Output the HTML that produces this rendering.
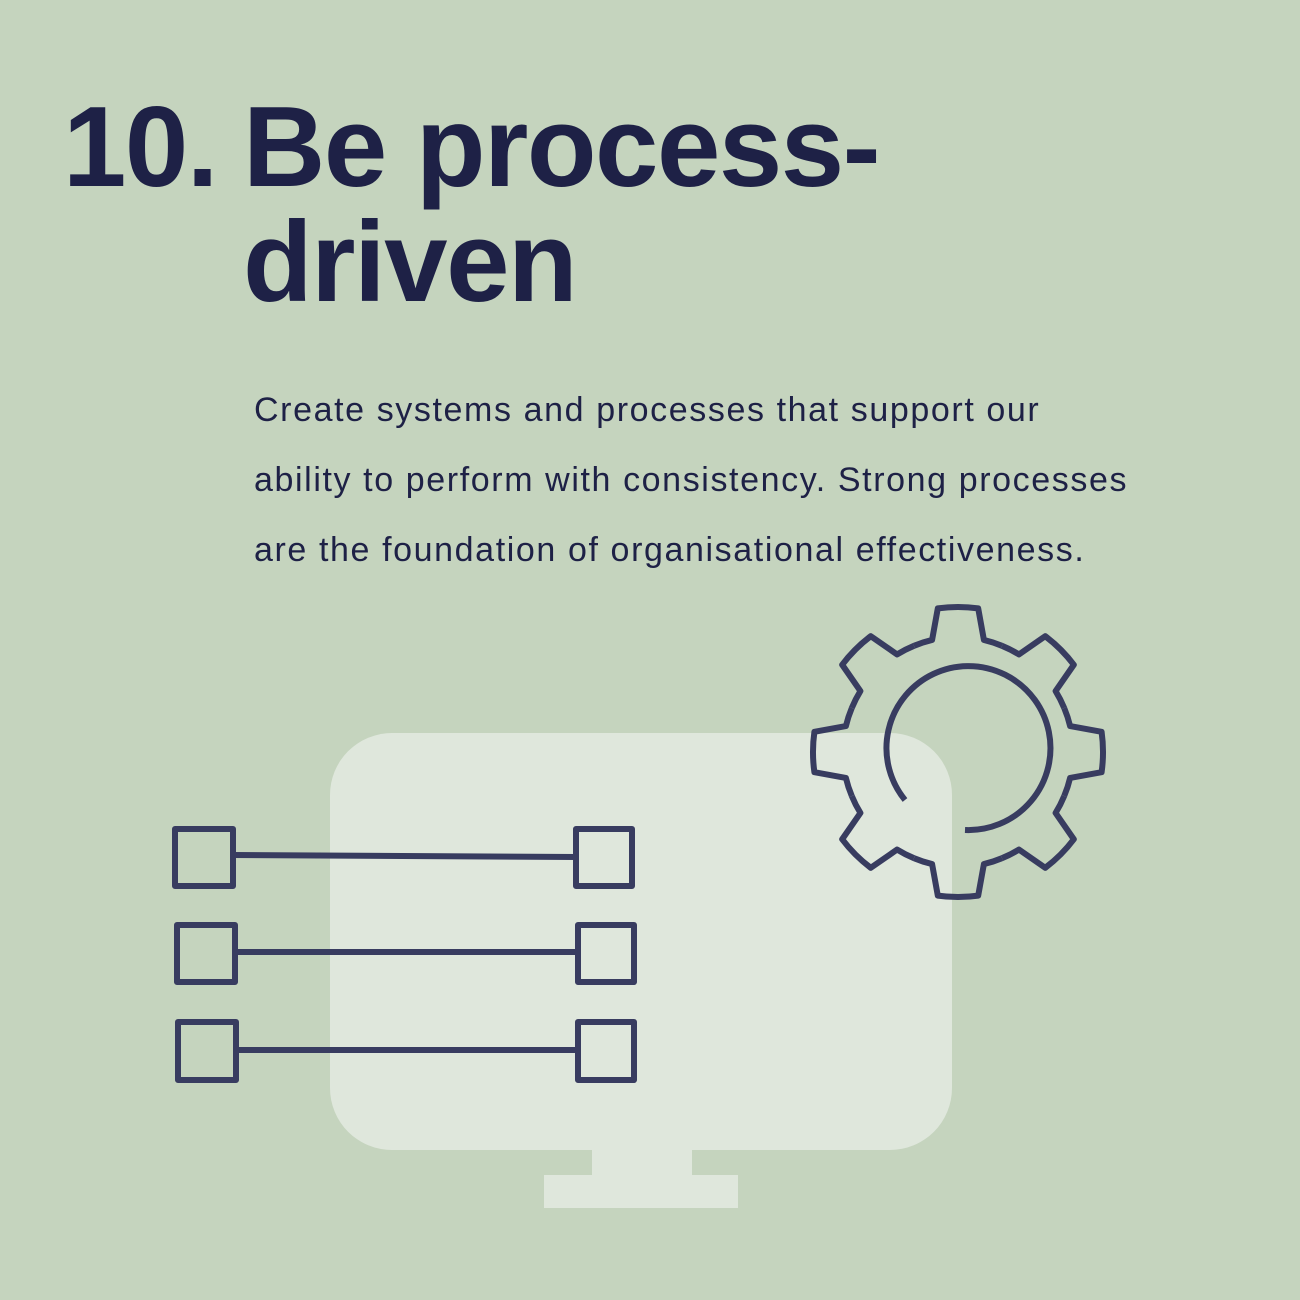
<!DOCTYPE html>
<html><head><meta charset="utf-8"><style>
body{margin:0;width:1300px;height:1300px;background:#c5d4be;position:relative;overflow:hidden;font-family:"Liberation Sans",sans-serif;color:#1e2146}
.t{position:absolute;font-weight:bold;font-size:114px;letter-spacing:-1.5px;line-height:115px}
.p{position:absolute;left:254px;top:375px;font-size:34px;letter-spacing:1.6px;line-height:70px;font-weight:300;width:1000px}
svg{position:absolute;left:0;top:0}
</style></head><body>
<svg width="1300" height="1300">
<rect x="330" y="733" width="622" height="417" rx="62" fill="#dfe7dc"/>
<rect x="592" y="1148" width="100" height="30" fill="#dfe7dc"/>
<rect x="544" y="1175" width="194" height="33" fill="#dfe7dc"/>
<g fill="none" stroke="#383c60" stroke-width="6" stroke-linejoin="round">
<defs><path id="s" d="M-44,-106.2 A115 115 0 0 1 -25.9,-112.1 L-20.2,-143.6 A145 145 0 0 1 20.2,-143.6 L25.9,-112.1 A115 115 0 0 1 44,-106.2"/></defs>
<g transform="translate(958,752)">
<use href="#s"/><use href="#s" transform="rotate(45)"/><use href="#s" transform="rotate(90)"/><use href="#s" transform="rotate(135)"/><use href="#s" transform="rotate(180)"/><use href="#s" transform="rotate(225)"/><use href="#s" transform="rotate(270)"/><use href="#s" transform="rotate(315)"/>
</g>
<path d="M965,830 A82 82 0 1 0 905,800"/>
<rect x="175" y="829" width="58" height="57"/>
<rect x="177" y="925" width="58" height="57"/>
<rect x="178" y="1022" width="58" height="58"/>
<rect x="576" y="829" width="56" height="57"/>
<rect x="578" y="925" width="56" height="57"/>
<rect x="578" y="1022" width="56" height="58"/>
<path d="M233,855 L576,857 M235,952 L578,952 M236,1050 L578,1050"/>
</g>
</svg>
<div class="t" style="left:63px;top:90px">10.</div>
<div class="t" style="left:243px;top:90px">Be process-<br>driven</div>
<div class="p">Create systems and processes that support our<br>ability to perform with consistency. Strong processes<br>are the foundation of organisational effectiveness.</div>
</body></html>
